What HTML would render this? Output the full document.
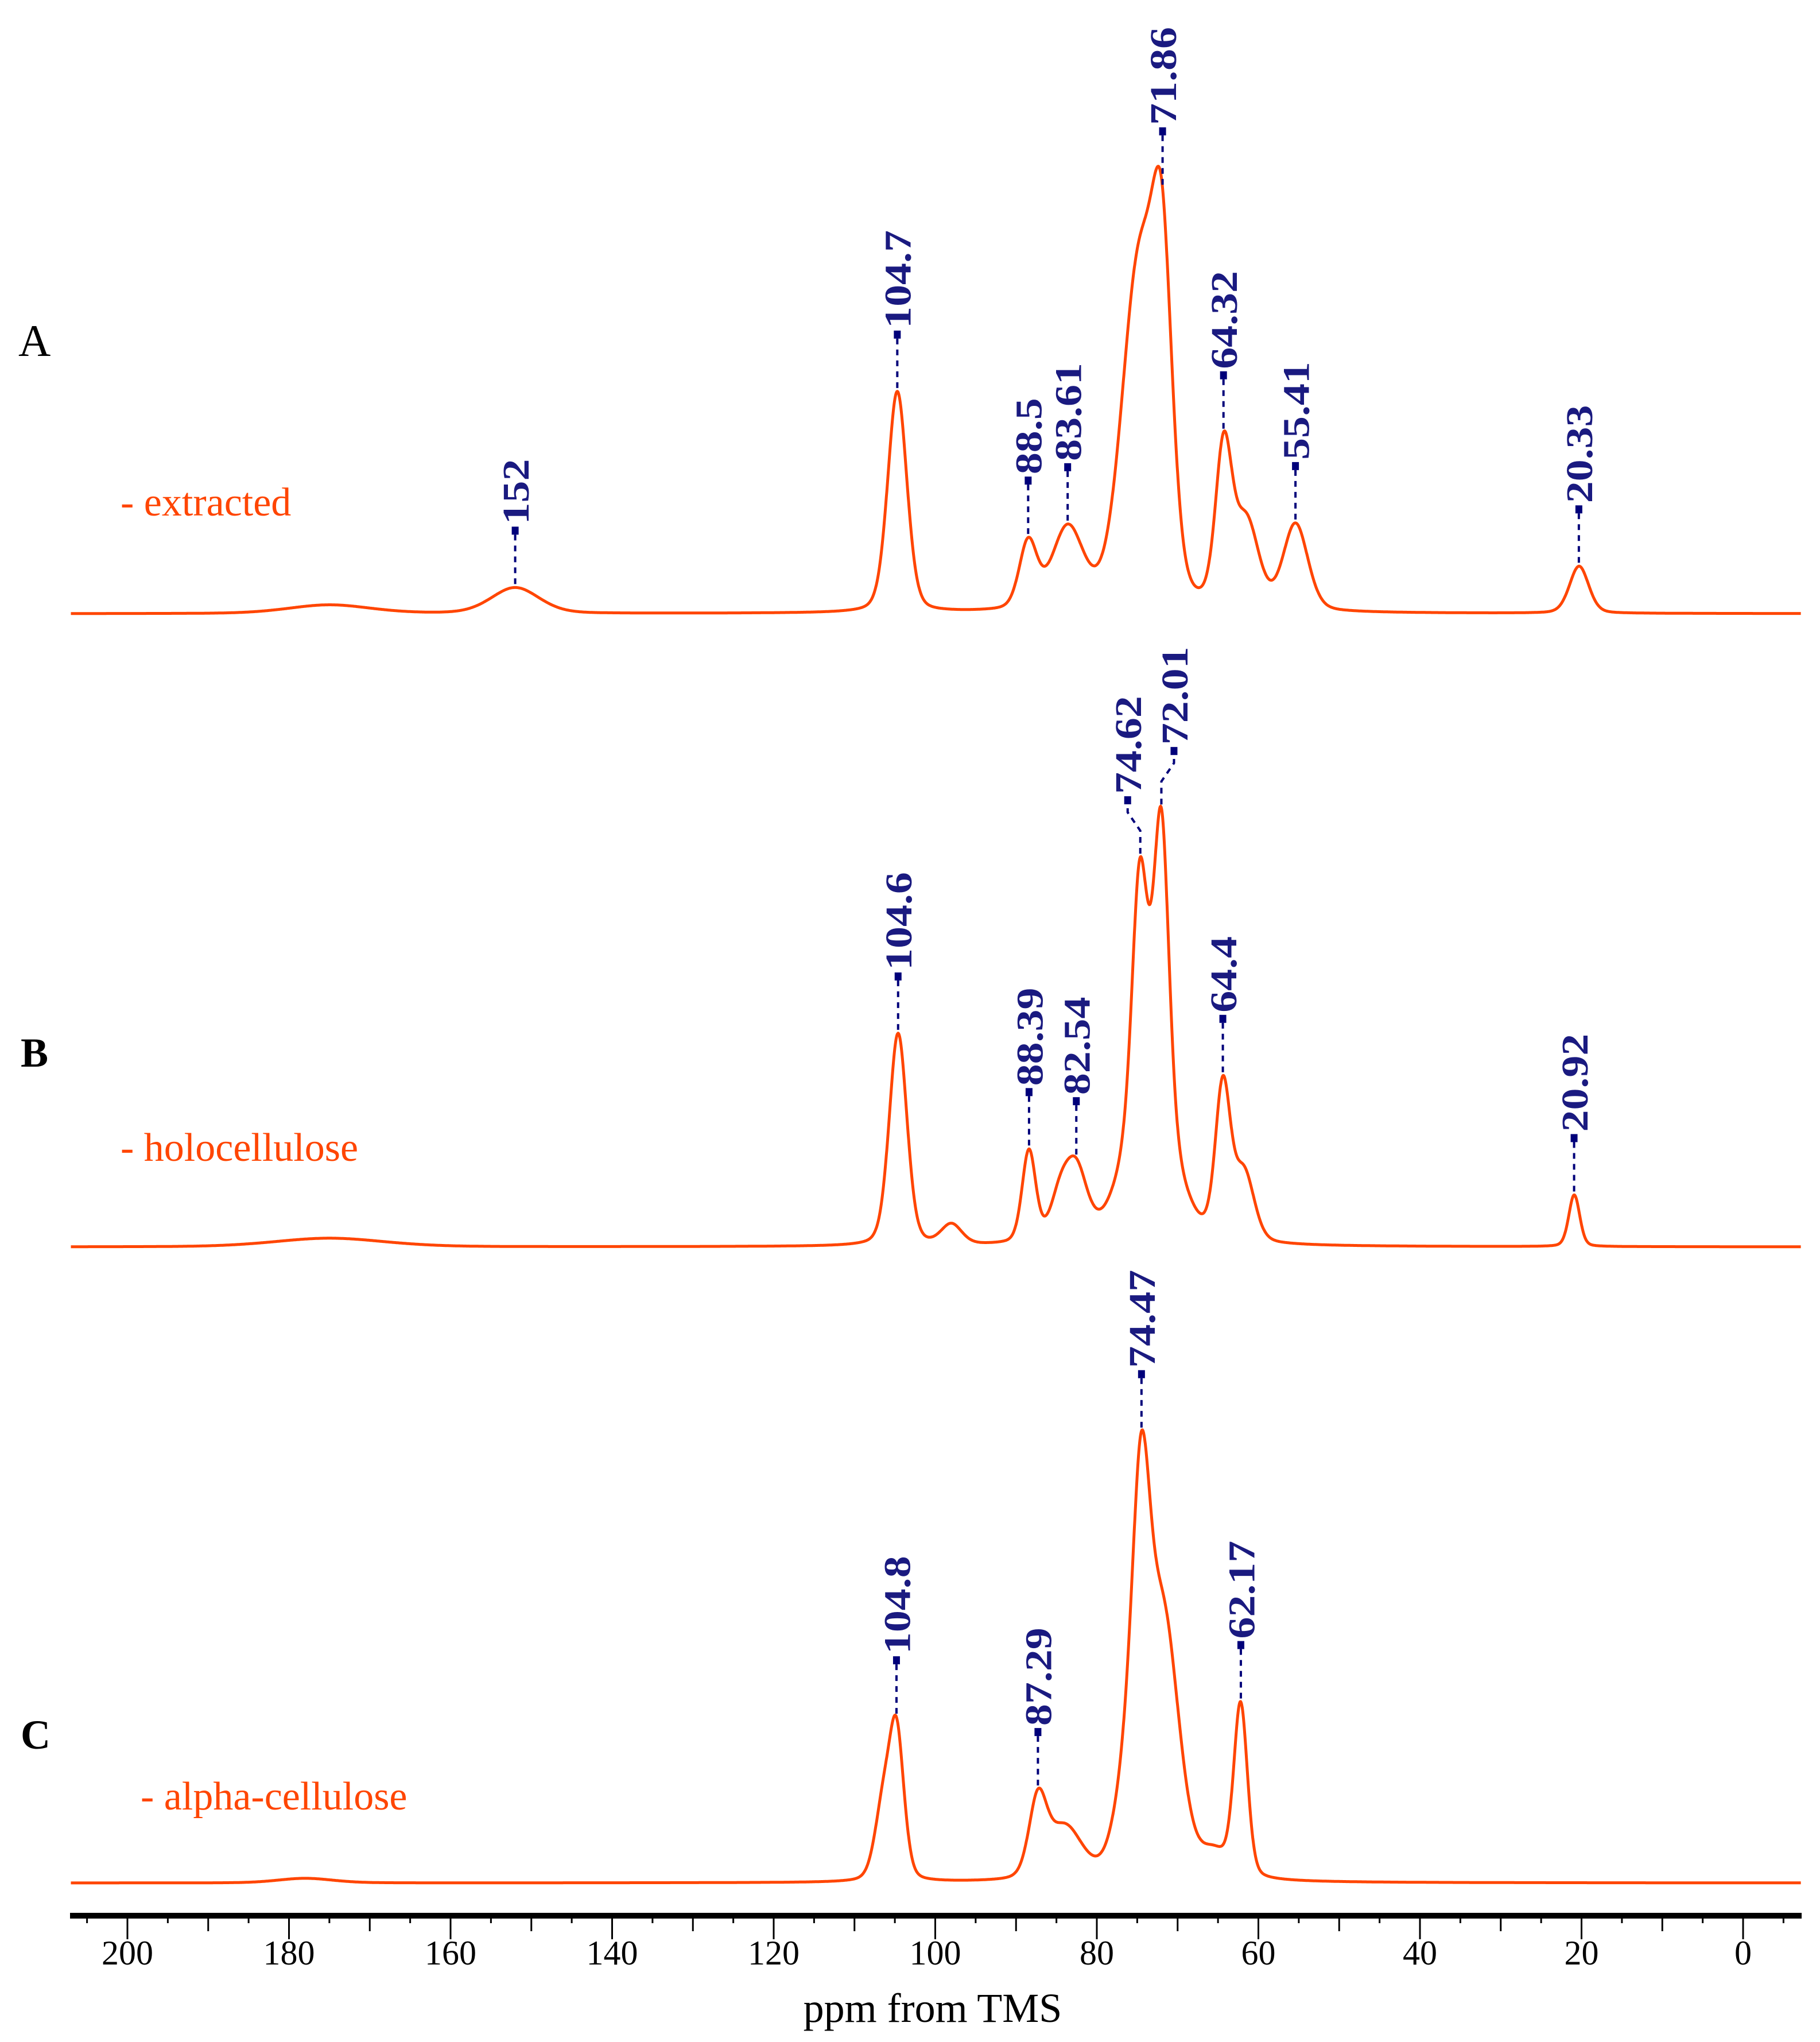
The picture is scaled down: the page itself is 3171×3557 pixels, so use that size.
<!DOCTYPE html>
<html><head><meta charset="utf-8"><style>
html,body{margin:0;padding:0;background:#fff;}
svg{display:block;}
</style></head><body>
<svg id="chart" xmlns="http://www.w3.org/2000/svg" width="3171" height="3557" viewBox="0 0 3171 3557">
<rect width="3171" height="3557" fill="#fff"/>
<g id="axis"></g>
<g id="spectra"></g>
<g id="labels"></g>
<text x="32" y="620" font-family="Liberation Serif, serif" font-size="78" fill="#000">A</text>
<text x="36" y="1858" font-family="Liberation Serif, serif" font-size="72" font-weight="bold" fill="#000">B</text>
<text x="36" y="3046" font-family="Liberation Serif, serif" font-size="72" font-weight="bold" fill="#000">C</text>
<text x="210" y="898" font-family="Liberation Serif, serif" font-size="70" fill="#ff4500">- extracted</text>
<text x="210" y="2022" font-family="Liberation Serif, serif" font-size="70" fill="#ff4500">- holocellulose</text>
<text x="245" y="3152" font-family="Liberation Serif, serif" font-size="70" fill="#ff4500">- alpha-cellulose</text>
<text x="1625" y="3522" text-anchor="middle" font-family="Liberation Serif, serif" font-size="72" fill="#000">ppm from TMS</text>
</svg>
<script>
// Peak data: centers (ppm), heights (intensity), half widths (ppm)
const peaksA_ppm = [175, 152, 104.7, 88.5, 83.6, 74.8, 71.9, 64.3, 61.5, 55.4, 20.3];
const peaksA_h   = [15, 45, 385, 115, 140, 590, 505, 270, 150, 150, 82];
const peaksA_w   = [6, 3.5, 1.4, 1.3, 2.3, 2.5, 1.5, 1.2, 1.8, 1.8, 1.4];
const peaksB_ppm = [175, 104.6, 98, 88.4, 84.5, 82.5, 73.5, 74.7, 72.0, 64.4, 61.8, 20.9];
const peaksB_h   = [15, 370, 35, 160, 75, 115, 260, 410, 515, 265, 120, 90];
const peaksB_w   = [8, 1.3, 1.5, 1.0, 1.5, 1.6, 3.5, 1.1, 1.1, 1.1, 1.5, 0.8];
const peaksC_ppm = [178, 106.5, 104.8, 87.3, 84.0, 76.2, 74.5, 71.8, 65.5, 62.2];
const peaksC_h   = [8, 120, 255, 130, 90, 160, 520, 450, 40, 300];
const peaksC_w   = [4, 1.2, 1.1, 1.3, 2.5, 1.8, 1.3, 2.3, 2, 1.0];
// labelled peaks
const labelsA = ["152", "104.7", "88.5", "83.61", "71.86", "64.32", "55.41", "20.33"];
const labelsB = ["104.6", "88.39", "82.54", "74.62", "72.01", "64.4", "20.92"];
const labelsC = ["104.8", "87.29", "74.47", "62.17"];
const tickValues = [200, 180, 160, 140, 120, 100, 80, 60, 40, 20, 0];

const NS = "http://www.w3.org/2000/svg";
const X0 = 3037, PX_PER_PPM = (3037 - 222) / 200;
function xScale(ppm) { return X0 - ppm * PX_PER_PPM; }
function shape(d, w) {
  const r = (d / w) * (d / w);
  return 0.75 * Math.exp(-0.693 * r) + 0.25 / (1 + r);
}
function intensity(ppm, c, h, w) {
  let s = 0;
  for (let i = 0; i < c.length; i++) s += h[i] * shape(ppm - c[i], w[i]);
  return s;
}
const panels = [
  {c: peaksA_ppm, h: peaksA_h, w: peaksA_w, base: 1069, labels: labelsA, name: "extracted"},
  {c: peaksB_ppm, h: peaksB_h, w: peaksB_w, base: 2172, labels: labelsB, name: "holocellulose"},
  {c: peaksC_ppm, h: peaksC_h, w: peaksC_w, base: 3280, labels: labelsC, name: "alpha-cellulose"}
];
const sp = document.getElementById("spectra");
const lg = document.getElementById("labels");
panels.forEach(function(p) {
  let d = "";
  for (let ppm = 207; ppm >= -7.2; ppm -= 0.05) {
    const y = p.base - intensity(ppm, p.c, p.h, p.w);
    d += (d ? "L" : "M") + xScale(ppm).toFixed(1) + " " + y.toFixed(1);
  }
  const path = document.createElementNS(NS, "path");
  path.setAttribute("d", d);
  path.setAttribute("fill", "none");
  path.setAttribute("stroke", "#ff4500");
  path.setAttribute("stroke-width", "5");
  
  
  sp.appendChild(path);
  p.labels.forEach(function(lab) {
    const ppm = parseFloat(lab);
    let off = 0;
    if (lab === "74.62") off = -22;
    if (lab === "72.01") off = 22;
    const px = xScale(ppm);
    const py = p.base - intensity(ppm, p.c, p.h, p.w) - 6;
    const ty = py - 88;
    const lx = px + off;
    const ln = document.createElementNS(NS, "path");
    ln.setAttribute("d", "M" + px + " " + py + "L" + px + " " + (py - 40) + "L" + lx + " " + (ty + 16) + "L" + lx + " " + ty);
    ln.setAttribute("fill", "none");
    ln.setAttribute("stroke", "#00007a");
    ln.setAttribute("stroke-width", "4");
    ln.setAttribute("stroke-dasharray", "10 9");
    
    
    lg.appendChild(ln);
    const sq = document.createElementNS(NS, "rect");
    sq.setAttribute("x", lx - 6); sq.setAttribute("y", ty - 12);
    sq.setAttribute("width", 12); sq.setAttribute("height", 14);
    sq.setAttribute("fill", "#00007a");
    
    
    lg.appendChild(sq);
    const t = document.createElementNS(NS, "text");
    t.setAttribute("transform", "translate(" + (lx + 2) + "," + (ty - 16) + ") rotate(-90) scale(1.15,1)");
    t.setAttribute("font-family", "Liberation Serif, serif");
    t.setAttribute("font-size", "66");
    t.setAttribute("font-weight", "bold");
    t.setAttribute("fill", "#1a1a80");
    t.setAttribute("dominant-baseline", "central");
    t.textContent = lab;
    
    
    lg.appendChild(t);
  });
});
// axis
const ax = document.getElementById("axis");
const line = document.createElementNS(NS, "rect");
line.setAttribute("x", 122); line.setAttribute("y", 3332);
line.setAttribute("width", 3017); line.setAttribute("height", 10);
line.setAttribute("fill", "#000");


ax.appendChild(line);
for (let v = 205; v >= -5; v -= 5) {
  const x = xScale(v);
  const len = (v % 20 === 0) ? 40 : (v % 10 === 0 ? 26 : 12);
  const tk = document.createElementNS(NS, "rect");
  tk.setAttribute("x", x - 1.5); tk.setAttribute("y", 3338);
  tk.setAttribute("width", 3); tk.setAttribute("height", len);
  tk.setAttribute("fill", "#000");
  
  
  ax.appendChild(tk);
}
tickValues.forEach(function(v) {
  const t = document.createElementNS(NS, "text");
  t.setAttribute("x", xScale(v)); t.setAttribute("y", 3422);
  t.setAttribute("text-anchor", "middle");
  t.setAttribute("font-family", "Liberation Serif, serif");
  t.setAttribute("font-size", "60");
  t.setAttribute("fill", "#000");
  t.textContent = v;
  
  
  ax.appendChild(t);
});
</script>
</body></html>
